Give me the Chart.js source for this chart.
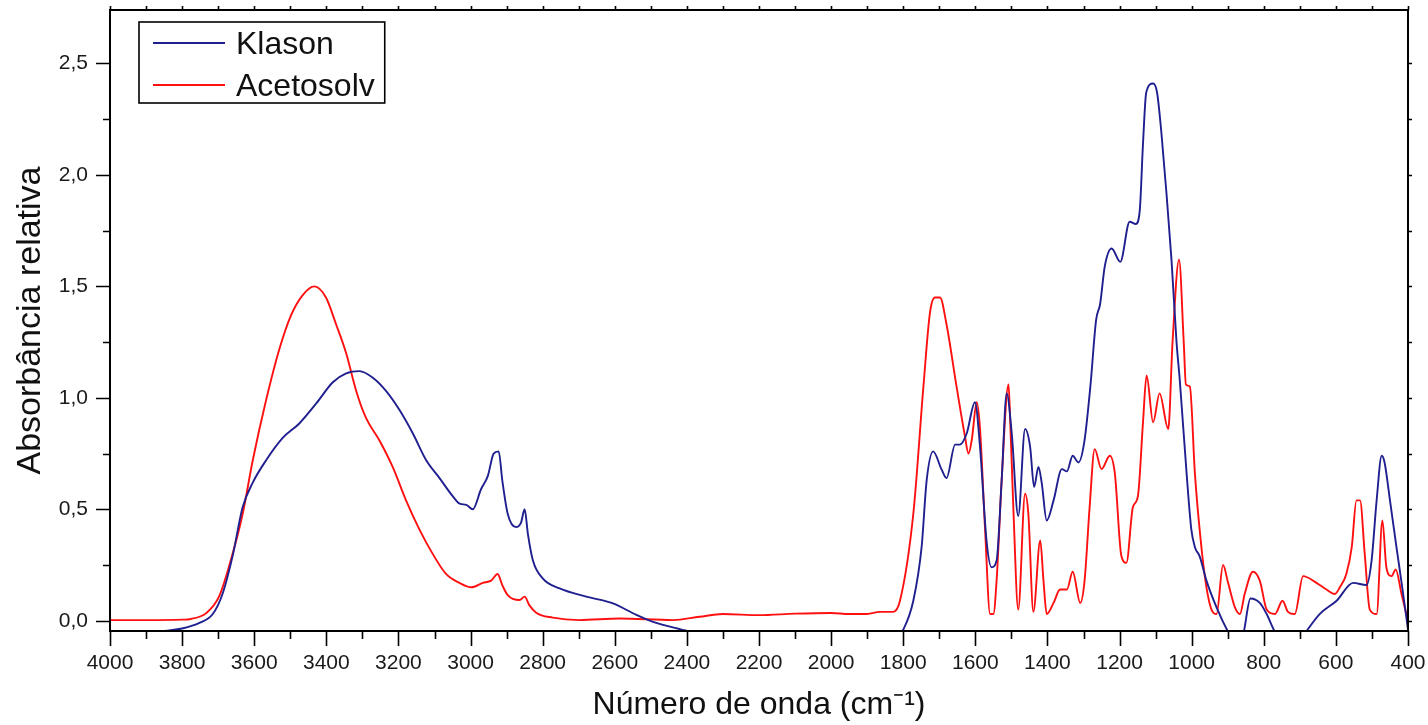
<!DOCTYPE html>
<html>
<head>
<meta charset="utf-8">
<script src="https://cdn.jsdelivr.net/npm/chart.js@4.4.1/dist/chart.umd.min.js"></script>
<style>
html, body { margin: 0; padding: 0; background: #fff; }
</style>
</head>
<body>
<canvas id="lienzo" width="1428" height="725"></canvas>
<script>
const series = ['Klason', 'Acetosolv']
const colores = ['#1f1f8f', '#ff1010']

const klasonX = [4000, 3900, 3862, 3800, 3752, 3715, 3688, 3660, 3632, 3604, 3567, 3521, 3475, 3428, 3382, 3345, 3308, 3271, 3234, 3197, 3160, 3123, 3086, 3050, 3030, 3012, 2994, 2971, 2952, 2936, 2922, 2912, 2897, 2874, 2860, 2850, 2841, 2827, 2800, 2753, 2679, 2605, 2540, 2494, 2402, 2300, 2200, 1900, 1820, 1800, 1772, 1749, 1735, 1717, 1694, 1680, 1656, 1643, 1624, 1601, 1587, 1569, 1555, 1541, 1527, 1513, 1499, 1481, 1462, 1448, 1437, 1425, 1416, 1402, 1383, 1360, 1346, 1330, 1314, 1298, 1281, 1265, 1254, 1241, 1222, 1198, 1172, 1155, 1144, 1135, 1126, 1107, 1096, 1084, 1070, 1056, 1042, 1033, 1014, 1001, 991, 978, 959, 931, 899, 880, 857, 837, 811, 792, 769, 740, 700, 683, 645, 598, 552, 515, 501, 487, 473, 465, 450, 432, 416, 400]
const klasonY = [-0.09, -0.07, -0.05, -0.035, -0.01, 0.03, 0.12, 0.29, 0.51, 0.62, 0.72, 0.82, 0.885, 0.975, 1.07, 1.11, 1.12, 1.09, 1.03, 0.945, 0.84, 0.72, 0.64, 0.56, 0.525, 0.52, 0.5, 0.59, 0.65, 0.75, 0.76, 0.63, 0.48, 0.42, 0.44, 0.5, 0.39, 0.27, 0.19, 0.145, 0.108, 0.078, 0.026, -0.005, -0.045, -0.09, -0.1, -0.1, -0.08, -0.04, 0.09, 0.33, 0.63, 0.76, 0.68, 0.64, 0.79, 0.79, 0.84, 0.98, 0.78, 0.36, 0.24, 0.27, 0.63, 1.02, 0.84, 0.47, 0.86, 0.78, 0.6, 0.69, 0.62, 0.45, 0.54, 0.68, 0.67, 0.74, 0.71, 0.8, 1.05, 1.35, 1.42, 1.59, 1.67, 1.61, 1.79, 1.78, 1.84, 2.14, 2.37, 2.41, 2.37, 2.19, 1.92, 1.62, 1.25, 1.08, 0.66, 0.41, 0.33, 0.29, 0.18, 0.06, -0.05, -0.1, -0.06, 0.1, 0.08, 0.03, -0.05, -0.1, -0.09, -0.05, 0.03, 0.09, 0.17, 0.16, 0.27, 0.54, 0.74, 0.71, 0.54, 0.33, 0.15, -0.04]

const acetoX = [4000, 3900, 3800, 3776, 3734, 3697, 3660, 3632, 3604, 3567, 3530, 3498, 3466, 3433, 3401, 3373, 3345, 3317, 3290, 3253, 3216, 3179, 3142, 3105, 3068, 3031, 2998, 2966, 2943, 2925, 2912, 2897, 2864, 2850, 2837, 2818, 2772, 2698, 2587, 2439, 2365, 2300, 2200, 2100, 2000, 1950, 1900, 1865, 1828, 1809, 1772, 1744, 1726, 1712, 1698, 1680, 1652, 1629, 1619, 1610, 1596, 1587, 1573, 1559, 1550, 1541, 1527, 1508, 1504, 1494, 1481, 1462, 1453, 1439, 1420, 1411, 1402, 1383, 1365, 1346, 1330, 1309, 1297, 1283, 1269, 1250, 1227, 1213, 1195, 1181, 1163, 1149, 1135, 1125, 1107, 1089, 1065, 1053, 1035, 1022, 1016, 1005, 991, 973, 959, 945, 931, 913, 899, 880, 866, 853, 830, 811, 792, 769, 748, 733, 714, 691, 654, 626, 603, 589, 571, 556, 543, 533, 520, 506, 487, 471, 460, 446, 434, 418, 400]
const acetoY = [0.003, 0.003, 0.005, 0.008, 0.033, 0.11, 0.3, 0.48, 0.72, 0.99, 1.22, 1.37, 1.46, 1.5, 1.45, 1.33, 1.2, 1.03, 0.91, 0.81, 0.69, 0.54, 0.41, 0.3, 0.21, 0.17, 0.15, 0.17, 0.18, 0.21, 0.16, 0.115, 0.093, 0.108, 0.07, 0.036, 0.014, 0.003, 0.01, 0.003, 0.018, 0.03, 0.025, 0.032, 0.035, 0.03, 0.03, 0.04, 0.04, 0.09, 0.48, 1.05, 1.38, 1.45, 1.45, 1.33, 1.05, 0.83, 0.75, 0.81, 0.98, 0.86, 0.41, 0.03, 0.03, 0.18, 0.63, 1.06, 0.93, 0.48, 0.05, 0.57, 0.48, 0.04, 0.36, 0.18, 0.03, 0.08, 0.14, 0.14, 0.22, 0.08, 0.18, 0.51, 0.77, 0.68, 0.74, 0.66, 0.29, 0.26, 0.51, 0.56, 0.89, 1.1, 0.89, 1.02, 0.86, 1.25, 1.62, 1.25, 1.06, 1.05, 0.66, 0.33, 0.15, 0.05, 0.03, 0.25, 0.17, 0.06, 0.03, 0.12, 0.22, 0.18, 0.05, 0.03, 0.09, 0.04, 0.03, 0.2, 0.17, 0.14, 0.12, 0.15, 0.21, 0.33, 0.54, 0.54, 0.3, 0.05, 0.03, 0.45, 0.24, 0.2, 0.23, 0.12, 0.0]

const tituloX = 'Número de onda (cm⁻¹)'
const tituloY = 'Absorbância relativa'

const fuente = "'Liberation Sans', Arial, sans-serif"

const puntos = (xs, ys) => xs.map((v, i) => ({ x: v, y: ys[i] }))

// marco, marcas menores y leyenda dentro del area
const marcas = {
    id: 'marcas',
    afterDraw(chart) {
        const { ctx, chartArea: a, scales: { x, y } } = chart
        ctx.save()
        ctx.strokeStyle = '#000'
        ctx.lineWidth = 2
        ctx.strokeRect(a.left, a.top, a.right - a.left, a.bottom - a.top)
        ctx.lineWidth = 1.6
        ctx.beginPath()
        for (let v = 400; v <= 4000; v += 100) {
            const px = Math.round(x.getPixelForValue(v)) + 0.5
            const largo = v % 200 === 0 ? 15 : 8
            ctx.moveTo(px, a.bottom)
            ctx.lineTo(px, a.bottom + largo)
            ctx.moveTo(px, a.top)
            ctx.lineTo(px, a.top - 4)
        }
        for (let v = 0; v <= 2.5001; v += 0.25) {
            const py = Math.round(y.getPixelForValue(v)) + 0.5
            const mayor = Math.abs(v * 2 - Math.round(v * 2)) < 1e-6
            ctx.moveTo(a.left, py)
            ctx.lineTo(a.left - (mayor ? 14 : 7), py)
            ctx.moveTo(a.right, py)
            ctx.lineTo(a.right + 4, py)
        }
        ctx.stroke()

        // leyenda
        ctx.font = '32px ' + fuente
        const bx = a.left + 29, by = a.top + 12
        let ancho = 0
        chart.data.datasets.forEach(d => { ancho = Math.max(ancho, ctx.measureText(d.label).width) })
        const w = 97 + ancho + 10, h = 81
        ctx.fillStyle = '#fff'
        ctx.fillRect(bx, by, w, h)
        ctx.lineWidth = 1.6
        ctx.strokeStyle = '#000'
        ctx.strokeRect(bx, by, w, h)
        chart.data.datasets.forEach((d, i) => {
            const ly = by + 21 + i * 42
            ctx.strokeStyle = d.borderColor
            ctx.lineWidth = 1.8
            ctx.beginPath()
            ctx.moveTo(bx + 14, ly)
            ctx.lineTo(bx + 86, ly)
            ctx.stroke()
            ctx.fillStyle = '#111'
            ctx.textBaseline = 'middle'
            ctx.fillText(d.label, bx + 97, ly + 2)
        })
        ctx.restore()
    }
}

new Chart(document.getElementById('lienzo'), {
    type: 'line',
    data: {
        datasets: [
            { label: series[0], data: puntos(klasonX, klasonY), borderColor: colores[0] },
            { label: series[1], data: puntos(acetoX, acetoY), borderColor: colores[1] }
        ]
    },
    options: {
        responsive: false,
        animation: false,
        layout: { padding: { top: 10, right: 20, left: 0, bottom: 0 } },
        elements: {
            point: { radius: 0 },
            line: { borderWidth: 1.9, cubicInterpolationMode: 'monotone', fill: false }
        },
        plugins: { legend: { display: false }, tooltip: { enabled: false } },
        scales: {
            x: {
                type: 'linear',
                min: 400,
                max: 4000,
                reverse: true,
                afterFit: s => { s.height = 94; s.paddingLeft = 0; s.paddingRight = 0 },
                grid: { display: false, drawTicks: false },
                border: { display: false },
                ticks: {
                    stepSize: 200,
                    autoSkip: false,
                    maxRotation: 0,
                    padding: 20,
                    color: '#1a1a1a',
                    font: { family: fuente, size: 21 },
                    callback: v => String(v)
                },
                title: {
                    display: true,
                    text: tituloX,
                    color: '#111',
                    font: { family: fuente, size: 32 },
                    padding: { top: 0, bottom: 1 }
                }
            },
            y: {
                min: -0.046,
                max: 2.74,
                afterFit: s => { s.width = 110; s.paddingTop = 0; s.paddingBottom = 0 },
                grid: { display: false, drawTicks: false },
                border: { display: false },
                ticks: {
                    stepSize: 0.5,
                    includeBounds: false,
                    padding: 22,
                    color: '#1a1a1a',
                    font: { family: fuente, size: 21 },
                    callback: v => v.toFixed(1).replace('.', ',')
                },
                title: {
                    display: true,
                    text: tituloY,
                    color: '#111',
                    font: { family: fuente, size: 34 },
                    padding: { top: 10, bottom: 0 }
                }
            }
        }
    },
    plugins: [marcas]
})
</script>
</body>
</html>
